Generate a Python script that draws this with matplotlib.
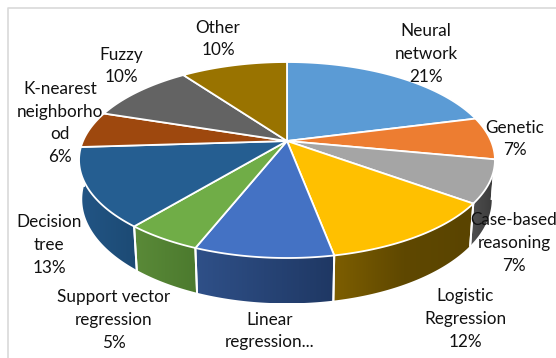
import numpy as np
import matplotlib
matplotlib.use('Agg')
import matplotlib.pyplot as plt
from matplotlib.colors import LinearSegmentedColormap
from matplotlib.patches import Polygon

plt.rcParams['font.family'] = ['Lato', 'DejaVu Sans']

# share of each method, clockwise from 12 o'clock
shares = [21, 7, 7, 12, 9, 5, 13, 6, 10, 10]
labels = ['Neural\nnetwork\n21%', 'Genetic\n7%', 'Case-based\nreasoning\n7%',
          'Logistic\nRegression\n12%', 'Linear\nregression...',
          'Support vector\nregression\n5%', 'Decision\ntree\n13%',
          'K-nearest\nneighborho\nod\n6%', 'Fuzzy\n10%', 'Other\n10%']
top_colors = ['#5b9bd5', '#ed7d31', '#a5a5a5', '#ffc000', '#4472c4',
              '#70ad47', '#255e91', '#9e480e', '#636363', '#997300']
# shades of the side wall, left to right
wall_colors = [('#3a6a96', '#3a6a96'), ('#a85820', '#a85820'), ('#505050', '#3a3a3a'),
               ('#7d5e00', '#5f4800', '#5a4400'), ('#2f5088', '#1f3864'), ('#5a8a38', '#4c7a2e'),
               ('#225585', '#1c4a74'), ('#6e320a', '#6e320a'), ('#464646', '#464646'),
               ('#6b5000', '#6b5000')]
label_x = [426, 515, 514, 465, 270, 114, 49, 60, 121, 218]
label_y = [54, 139, 243, 319, 331, 320, 245, 123, 66, 39]

# perspective of the tilted disc
cx, cy = 287, 141
scale_x, scale_y = 204, 94.3
tilt = 0.194
depth = 39


def project(theta, base=False):
    u, v = np.sin(theta), np.cos(theta)
    w = 1 + tilt * v
    if base:
        w = w + 0.015
        return cx + scale_x * u / w, cy + (depth - scale_y * v) / w
    return cx + scale_x * u / w, cy - scale_y * v / w


fig = plt.figure(figsize=(5.56, 3.58), dpi=100)
ax = fig.add_axes([0, 0, 1, 1])
ax.set_xlim(0, 556)
ax.set_ylim(358, 0)
ax.axis('off')

# chart frame, only the top and left sides are in view
ax.plot([8, 8, 556], [358, 7.5, 7.5], color='#d9d9d9', lw=1.2, zorder=1)

edges = np.cumsum([0] + shares) / sum(shares) * 2 * np.pi

# side walls first, the top surface covers the back part
for i in range(len(shares)):
    th = np.linspace(edges[i], edges[i + 1], 60)
    x1, y1 = project(th)
    x2, y2 = project(th, base=True)
    xs = np.concatenate([x1, x2[::-1]])
    ys = np.concatenate([y1, y2[::-1]])
    verts = np.column_stack([xs, ys])
    cmap = LinearSegmentedColormap.from_list('wall', wall_colors[i])
    im = ax.imshow(np.linspace(0, 1, 64).reshape(1, -1), cmap=cmap, aspect='auto',
                   extent=[xs.min(), xs.max(), ys.max(), ys.min()], zorder=2)
    clip = Polygon(verts, closed=True, transform=ax.transData, fc='none', ec='none')
    ax.add_patch(clip)
    im.set_clip_path(clip)
    # white seam at the slice boundary
    ax.plot([x1[0], x2[0]], [y1[0], y2[0]], color='white', lw=1.4, zorder=3)
    ax.plot([x1[-1], x2[-1]], [y1[-1], y2[-1]], color='white', lw=1.4, zorder=3)
ax.set_xlim(0, 556)
ax.set_ylim(358, 0)

# top surface
for i in range(len(shares)):
    th = np.linspace(edges[i], edges[i + 1], 60)
    x1, y1 = project(th)
    ax.fill(np.r_[cx, x1], np.r_[cy, y1], facecolor=top_colors[i], edgecolor='white',
            lw=1.3, joinstyle='round', zorder=4)

for i in range(len(labels)):
    ax.text(label_x[i], label_y[i], labels[i], ha='center', va='center', fontsize=12.3,
            linespacing=1.53, color='#111111', zorder=5)

fig.savefig('out.png', dpi=100)
